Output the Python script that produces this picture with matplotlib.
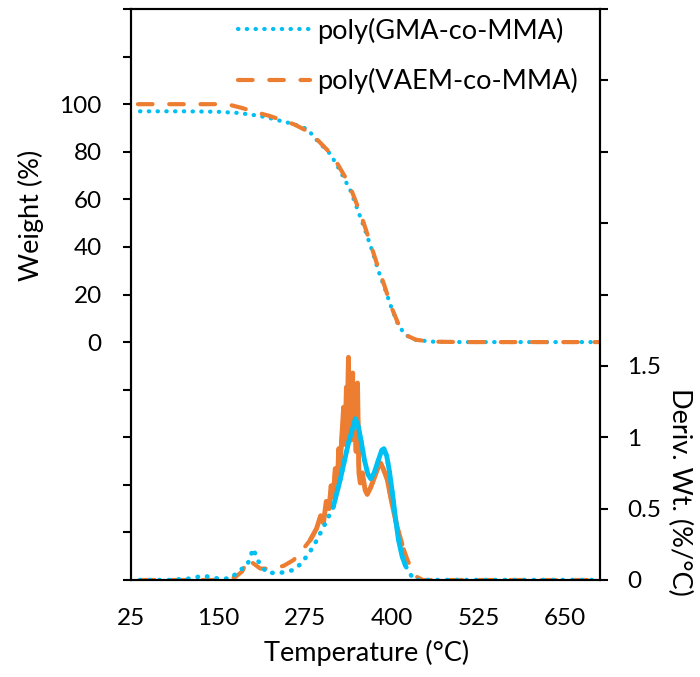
import matplotlib
matplotlib.use('Agg')
import matplotlib.pyplot as plt
import numpy as np

plt.rcParams['font.family'] = ['Lato', 'DejaVu Sans']

CYAN = '#00BFF3'
ORANGE = '#ED7D31'
FS_TICK = 17.5
FS_TEXT = 19.5

# ---------------- weight (TGA), left axis ----------------
gma_temp = [38, 60, 100, 150, 180, 200, 220, 240, 254, 265, 279, 292, 302, 312,
            326, 341, 352, 362, 372, 381, 391, 401, 410, 420, 434, 456, 500, 600, 698]
gma_weight = [97, 97, 97, 96.8, 96.3, 95.5, 94.5, 93, 92, 91, 89.5, 85, 82, 79,
              72, 63.6, 55, 47, 38.5, 30, 22, 13.4, 7, 3, 1, 0.2, 0, 0, 0]

vaem_temp = [35, 60, 100, 150, 170, 186, 200, 225, 245, 259, 270, 280, 290, 300,
             310, 322, 338, 350, 360, 370, 380, 390, 400, 410, 420, 435, 455, 500, 600, 698]
vaem_weight = [100, 100, 100, 100, 99.5, 98.3, 97, 95, 93, 91.6, 90, 88.5, 86, 83,
               80, 75, 67, 58, 50, 41, 32, 23.5, 14.5, 7.5, 3, 1, 0.2, 0, 0, 0]

# ---------------- derivative, right axis ----------------
gma_dtemp = [38, 80, 110, 129, 150, 168, 182, 192, 201, 207, 214, 221, 240, 259,
             271, 287, 302, 316, 326, 338, 348, 352, 356, 361, 366, 370, 375, 381,
             386, 389, 393, 397, 402, 406, 410, 415, 420, 427, 433, 450, 550, 698]
gma_deriv = [0, 0, 0.01, 0.03, 0.01, 0.01, 0.07, 0.1, 0.22, 0.14, 0.09, 0.05, 0.05, 0.07,
             0.12, 0.23, 0.37, 0.51, 0.70, 0.96, 1.13, 1.08, 0.98, 0.84, 0.74, 0.71, 0.75, 0.84,
             0.91, 0.92, 0.87, 0.76, 0.58, 0.42, 0.28, 0.17, 0.10, 0.04, 0, 0, 0, 0]

vaem_dtemp = [38, 100, 150, 175, 185, 194, 200, 211, 230, 245, 259, 270, 283, 292,
              298, 302, 306, 310, 313, 316, 319, 322, 324, 326, 329, 331, 333, 335, 336,
              338, 339, 341, 342, 344, 345, 347, 349, 351, 353, 355, 358, 362, 365, 370,
              374, 380, 384, 388, 394, 400, 408, 415, 423, 430, 437, 445, 550, 698]
vaem_deriv = [0, 0, 0, 0.02, 0.06, 0.15, 0.12, 0.08, 0.08, 0.1, 0.14, 0.2, 0.28, 0.36,
              0.45, 0.40, 0.55, 0.50, 0.66, 0.58, 0.78, 0.68, 0.92, 0.80, 1.05, 1.21, 0.95, 1.35,
              1.1, 1.56, 1.0, 1.3, 0.98, 1.45, 1.1, 1.21, 0.9, 1.38, 0.75, 0.68, 0.75, 0.63,
              0.6, 0.65, 0.7, 0.78, 0.82, 0.78, 0.70, 0.55, 0.37, 0.25, 0.14, 0.06, 0.02, 0,
              0, 0]

x_ticks = [25, 150, 275, 400, 525, 650]
w_ticks = list(range(-100, 141, 20))
d_ticks = [0, 0.5, 1, 1.5, 2, 2.5, 3, 3.5, 4]

#---------
# PLOTTING
#---------
fig = plt.figure(figsize=(7, 6.77), dpi=100)
ax = fig.add_axes([131/700, 1 - 580/677, 469/700, 571/677])
ax2 = ax.twinx()

dot = (0, (0.1, 2.0))
dash = (0, (3.5, 4.0))

ax.plot(gma_temp, gma_weight, color=CYAN, lw=3, ls=dot, dash_capstyle='round',
        label='poly(GMA-co-MMA)')
ax.plot(vaem_temp, vaem_weight, color=ORANGE, lw=3, ls=dash, dash_capstyle='round',
        label='poly(VAEM-co-MMA)')

# derivative curves: dense noisy data makes the peak region look solid
vt = np.array(vaem_dtemp)
vd = np.array(vaem_deriv)
gt = np.array(gma_dtemp)
gd = np.array(gma_deriv)
ax2.plot(vt, vd, color=ORANGE, lw=3, ls=dash, dash_capstyle='round')
m = (vt >= 280) & (vt <= 420)
ax2.plot(vt[m], vd[m], color=ORANGE, lw=3.5, solid_capstyle='round', solid_joinstyle='round')
ax2.plot(gt, gd, color=CYAN, lw=3.3, ls=dot, dash_capstyle='round')
m = (gt >= 316) & (gt <= 425)
ax2.plot(gt[m], gd[m], color=CYAN, lw=3.5, solid_capstyle='round', solid_joinstyle='round')

ax.set_xlim(25, 700)
ax.set_ylim(-100, 140)
ax2.set_ylim(0, 4)

ax.set_xticks(x_ticks)
ax.set_xticklabels([str(t) for t in x_ticks])
ax.set_yticks(w_ticks)
ax.set_yticklabels([str(v) if 0 <= v <= 100 else '' for v in w_ticks])
ax2.set_yticks(d_ticks)
ax2.set_yticklabels(['{:g}'.format(v) if v <= 1.5 else '' for v in d_ticks])

ax.tick_params(axis='x', length=0, pad=20, labelsize=FS_TICK)
ax.tick_params(axis='y', length=6, width=1.5, pad=15, labelsize=FS_TICK)
ax2.tick_params(axis='y', length=6, width=1.5, pad=13.5, labelsize=FS_TICK)

for a in (ax, ax2):
    for s in a.spines.values():
        s.set_linewidth(1.5)
        s.set_color('black')

ax.set_xlabel('Temperature (°C)', fontsize=FS_TEXT)
ax.xaxis.set_label_coords(0.503, -0.105)
ax.set_ylabel('Weight (%)', fontsize=FS_TEXT)
ax.yaxis.set_label_coords(-0.185, 0.639)
ax2.set_ylabel('Deriv. Wt. (%/°C)', fontsize=FS_TEXT, rotation=-90, va='bottom')
ax2.yaxis.set_label_coords(1.143, 0.154)

ax.legend(loc='upper right', bbox_to_anchor=(0.953, 0.985), frameon=False,
          fontsize=FS_TEXT, handlelength=2.65, handletextpad=0.28, labelspacing=0.9,
          borderpad=0, borderaxespad=0)

fig.savefig('out.png', dpi=100)
